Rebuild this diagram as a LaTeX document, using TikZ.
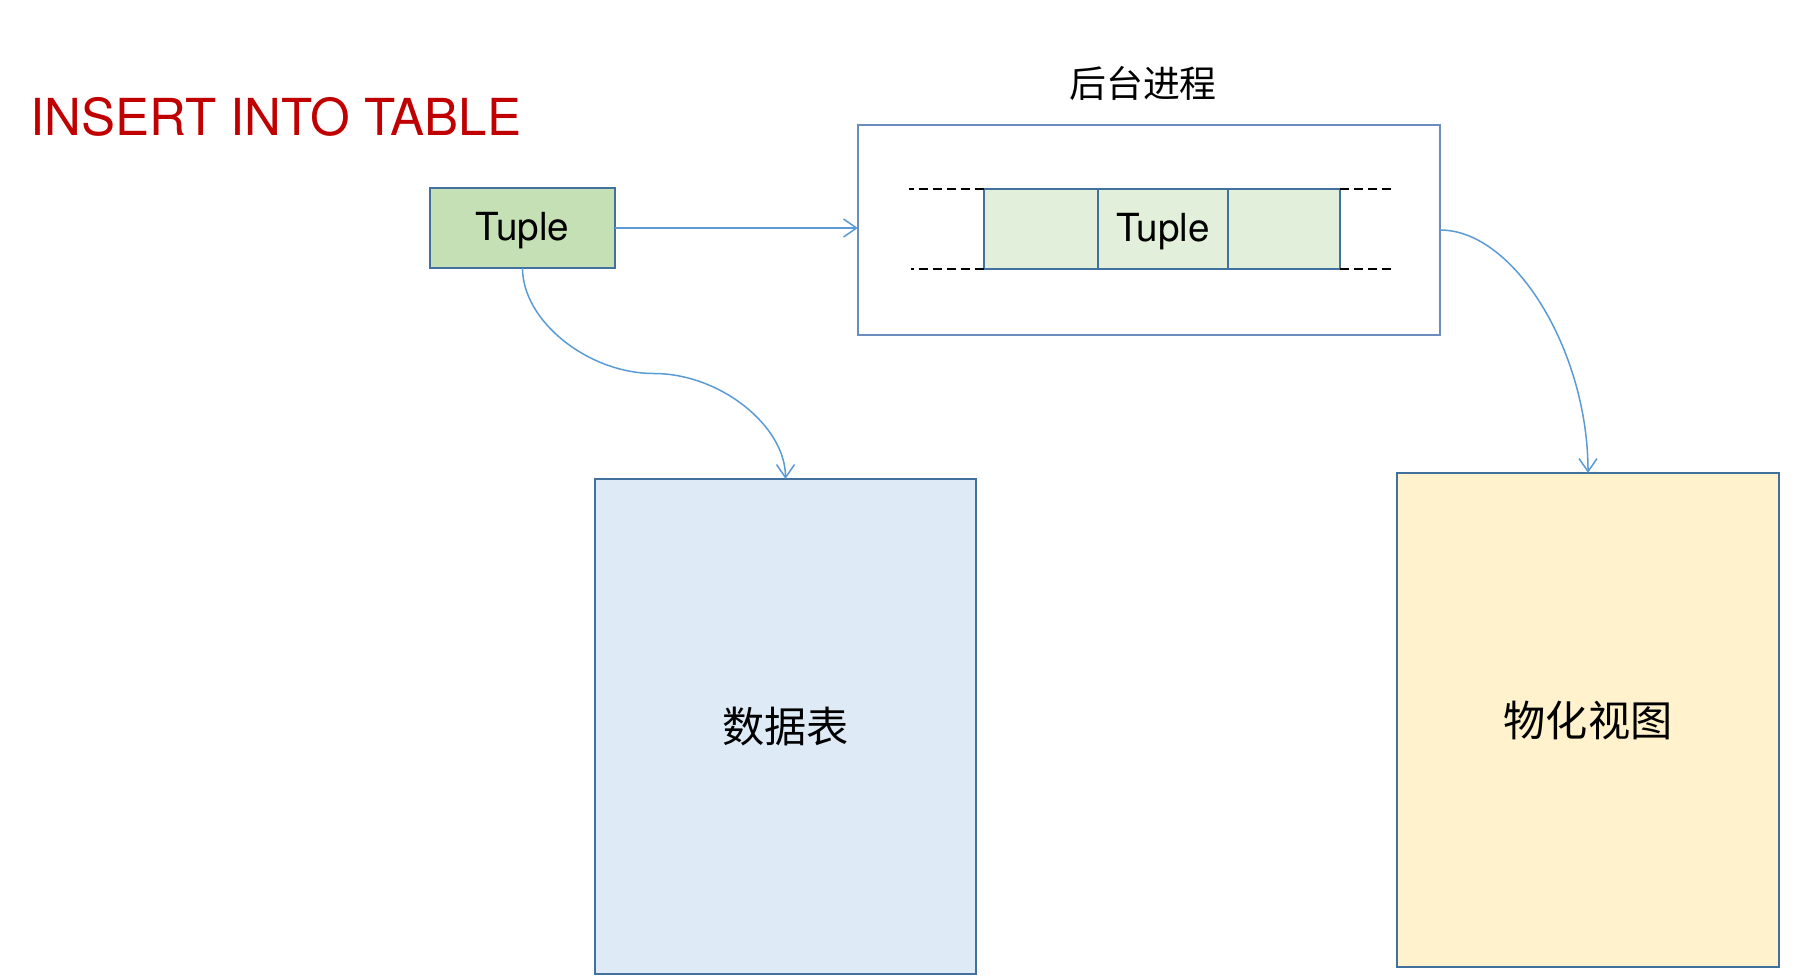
\documentclass[tikz,border=0pt]{standalone}
\usepackage{fontspec}
\newfontfamily\helv{TeX Gyre Heros}
\newfontfamily\cjk{Noto Sans CJK SC}
\usetikzlibrary{arrows.meta,positioning}

\definecolor{titlered}{HTML}{C00000}
\definecolor{boxblue}{HTML}{41719C}
\definecolor{procblue}{HTML}{6A8DBE}
\definecolor{linkblue}{HTML}{5B9BD5}
\definecolor{tuplegreen}{HTML}{C5E0B4}
\definecolor{cellgreen}{HTML}{E2EFDA}
\definecolor{tableblue}{HTML}{DEEAF6}
\definecolor{viewyellow}{HTML}{FFF2CC}

\begin{document}
\begin{tikzpicture}[x=0.01cm,y=-0.01cm,
  box/.style={draw=boxblue, line width=0.02cm, inner sep=0, outer sep=0},
  tupletext/.style={font=\helv\fontsize{11}{13}\selectfont, text height=7pt, text depth=0pt},
  cell/.style={box, fill=cellgreen, minimum height=0.8cm, tupletext},
  flow/.style={linkblue, line width=0.015cm, -{Straight Barb[length=0.13cm,width=0.18cm]}},
  gap/.style={black, line width=0.02cm, dash pattern=on 0.09cm off 0.05cm}]
\useasboundingbox (0,0) rectangle (1816,978);
%title:
\node[anchor=base west, inner sep=0, text=titlered, font=\helv\fontsize{14.5}{17}\selectfont] (title) at (30,135) {INSERT INTO TABLE};
%incoming tuple:
\node[box, fill=tuplegreen, minimum width=1.85cm, minimum height=0.8cm, tupletext] (tuple) at (522.5,228) {Tuple};
%background process:
\node[box, draw=procblue, minimum width=5.82cm, minimum height=2.1cm] (proc) at (1149,230) {};
\node[font=\cjk\fontsize{10.5}{13}\selectfont] (proclabel) at (1143,83) {后台进程};
\node[cell, minimum width=1.14cm] (q1) at (1041,229) {};
\node[cell, minimum width=1.30cm, right=0cm of q1] (q2) {Tuple};
\node[cell, minimum width=1.12cm, right=0cm of q2] (q3) {};
\draw[gap] (q1.north west) -- +(-75,0);
\draw[gap] (q1.south west) -- +(-73,0);
\draw[gap] (q3.north east) -- +(52,0);
\draw[gap] (q3.south east) -- +(55,0);
%table and view:
\node[box, fill=tableblue, minimum width=3.81cm, minimum height=4.95cm, font=\cjk\fontsize{12}{14}\selectfont] (table) at (785.5,726.5) {数据表};
\node[box, fill=viewyellow, minimum width=3.82cm, minimum height=4.94cm, font=\cjk\fontsize{12}{14}\selectfont] (view) at (1588,720) {物化视图};
%arrows:
\coordinate (bend) at (654,373.5);
\draw[flow] (tuple.east) -- (tuple.east -| proc.west);
\draw[flow] (tuple.south) .. controls +(0,53) and +(-66,0) .. (bend) .. controls +(66,0) and +(0,-53) .. (table.north);
\draw[flow] (proc.east) .. controls +(74,0) and +(0,-122) .. (view.north);
\end{tikzpicture}
\end{document}
